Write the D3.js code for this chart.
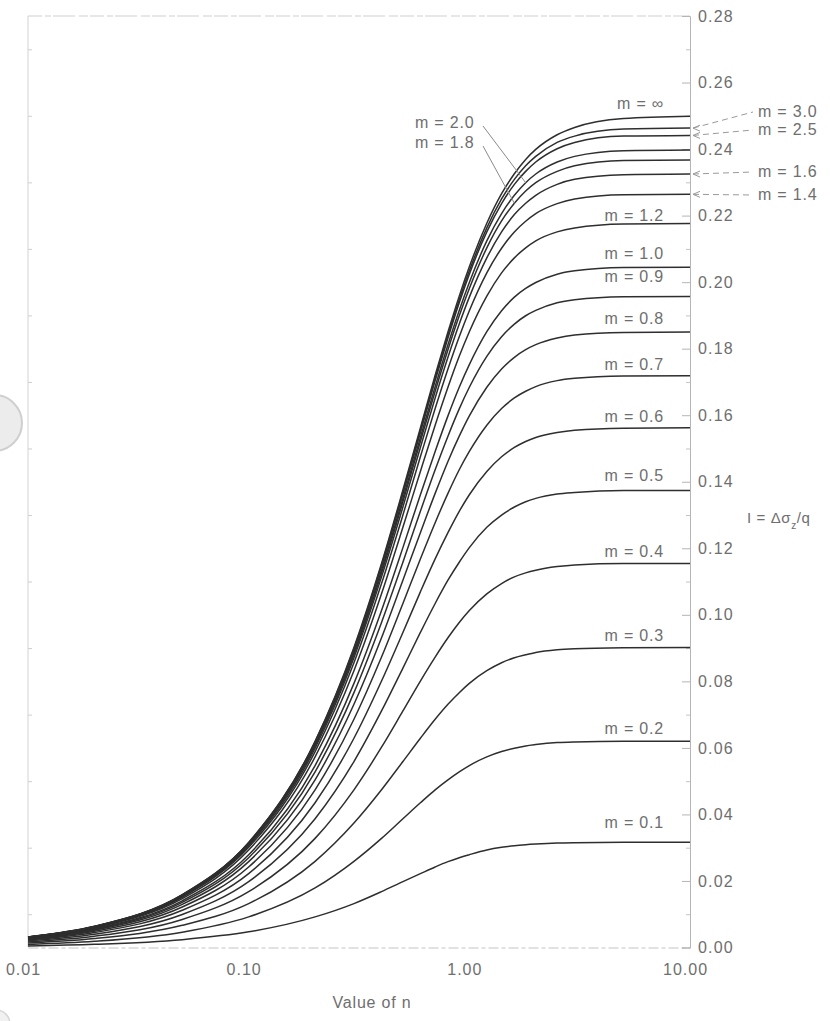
<!DOCTYPE html>
<html>
<head>
<meta charset="utf-8">
<script src="https://cdn.jsdelivr.net/npm/d3@7"></script>
<style>
  body { margin: 0; background: #fff; }
  svg { display: block; }
  text { font-family: "Liberation Sans", Arial, sans-serif; fill: #6e6e6e; }
</style>
</head>
<body>
<div id="chart"></div>
<script>
// values of n (x axis)
const nValues = [0.01, 0.02, 0.05, 0.1, 0.2, 0.3, 0.4, 0.5, 0.6, 0.7, 0.8, 0.9, 1.0, 1.2, 1.4, 1.6, 1.8, 2.0, 2.5, 3.0, 5.0, 10.0];

// influence factor I for each m, one value per n above
const iM01 = [0.00047, 0.00095, 0.00236, 0.0047, 0.0092, 0.0132, 0.0168, 0.0198, 0.0222, 0.0242, 0.0258, 0.0270, 0.0279, 0.0293, 0.0301, 0.0306, 0.0309, 0.0311, 0.0314, 0.0315, 0.0316, 0.0316];
const iM02 = [0.00092, 0.00185, 0.00461, 0.0092, 0.0179, 0.0259, 0.0328, 0.0387, 0.0435, 0.0474, 0.0504, 0.0528, 0.0547, 0.0573, 0.0589, 0.0599, 0.0606, 0.0610, 0.0616, 0.0618, 0.0620, 0.0620];
const iM03 = [0.00133, 0.00267, 0.00666, 0.0132, 0.0259, 0.0374, 0.0474, 0.0559, 0.0629, 0.0686, 0.0731, 0.0766, 0.0794, 0.0832, 0.0856, 0.0871, 0.0880, 0.0887, 0.0895, 0.0898, 0.0901, 0.0902];
const iM04 = [0.00169, 0.00338, 0.00844, 0.0168, 0.0328, 0.0474, 0.0602, 0.0711, 0.0801, 0.0873, 0.0931, 0.0977, 0.1013, 0.1063, 0.1094, 0.1114, 0.1126, 0.1134, 0.1145, 0.1150, 0.1154, 0.1154];
const iM05 = [0.00199, 0.00399, 0.00994, 0.0198, 0.0387, 0.0559, 0.0711, 0.0840, 0.0947, 0.1034, 0.1104, 0.1158, 0.1202, 0.1263, 0.1300, 0.1324, 0.1340, 0.1350, 0.1363, 0.1368, 0.1374, 0.1374];
const iM06 = [0.00224, 0.00448, 0.01118, 0.0222, 0.0435, 0.0629, 0.0801, 0.0947, 0.1069, 0.1168, 0.1247, 0.1311, 0.1361, 0.1431, 0.1475, 0.1503, 0.1521, 0.1533, 0.1548, 0.1555, 0.1561, 0.1562];
const iM07 = [0.00244, 0.00488, 0.01217, 0.0242, 0.0474, 0.0686, 0.0873, 0.1034, 0.1168, 0.1277, 0.1365, 0.1436, 0.1491, 0.1570, 0.1620, 0.1652, 0.1672, 0.1686, 0.1704, 0.1711, 0.1718, 0.1719];
const iM08 = [0.00260, 0.00519, 0.01295, 0.0258, 0.0504, 0.0731, 0.0931, 0.1104, 0.1247, 0.1365, 0.1461, 0.1537, 0.1598, 0.1684, 0.1739, 0.1774, 0.1797, 0.1812, 0.1832, 0.1841, 0.1849, 0.1850];
const iM09 = [0.00272, 0.00544, 0.01356, 0.0270, 0.0528, 0.0766, 0.0977, 0.1158, 0.1311, 0.1436, 0.1537, 0.1619, 0.1684, 0.1777, 0.1836, 0.1874, 0.1899, 0.1915, 0.1938, 0.1947, 0.1956, 0.1957];
const iM10 = [0.00281, 0.00563, 0.01404, 0.0279, 0.0547, 0.0794, 0.1013, 0.1202, 0.1361, 0.1491, 0.1598, 0.1684, 0.1752, 0.1851, 0.1914, 0.1955, 0.1981, 0.1999, 0.2024, 0.2034, 0.2044, 0.2045];
const iM12 = [0.00295, 0.00589, 0.01470, 0.0293, 0.0573, 0.0832, 0.1063, 0.1263, 0.1431, 0.1570, 0.1684, 0.1777, 0.1851, 0.1958, 0.2028, 0.2073, 0.2103, 0.2124, 0.2151, 0.2163, 0.2175, 0.2176];
const iM14 = [0.00303, 0.00606, 0.01511, 0.0301, 0.0589, 0.0856, 0.1094, 0.1300, 0.1475, 0.1620, 0.1739, 0.1836, 0.1914, 0.2028, 0.2102, 0.2151, 0.2183, 0.2206, 0.2236, 0.2250, 0.2263, 0.2264];
const iM16 = [0.00308, 0.00616, 0.01536, 0.0306, 0.0599, 0.0871, 0.1114, 0.1324, 0.1503, 0.1652, 0.1774, 0.1874, 0.1955, 0.2073, 0.2151, 0.2203, 0.2237, 0.2261, 0.2294, 0.2309, 0.2323, 0.2325];
const iM18 = [0.00311, 0.00622, 0.01552, 0.0309, 0.0606, 0.0880, 0.1126, 0.1340, 0.1521, 0.1672, 0.1797, 0.1899, 0.1981, 0.2103, 0.2184, 0.2237, 0.2274, 0.2299, 0.2333, 0.2350, 0.2366, 0.2367];
const iM20 = [0.00313, 0.00626, 0.01563, 0.0311, 0.0610, 0.0887, 0.1134, 0.1350, 0.1533, 0.1686, 0.1812, 0.1915, 0.1999, 0.2124, 0.2206, 0.2261, 0.2299, 0.2325, 0.2361, 0.2378, 0.2395, 0.2397];
const iM25 = [0.00316, 0.00632, 0.01576, 0.0314, 0.0616, 0.0895, 0.1145, 0.1363, 0.1548, 0.1704, 0.1832, 0.1938, 0.2024, 0.2151, 0.2236, 0.2294, 0.2333, 0.2361, 0.2401, 0.2420, 0.2439, 0.2441];
const iM30 = [0.00317, 0.00634, 0.01582, 0.0315, 0.0618, 0.0898, 0.1150, 0.1368, 0.1555, 0.1711, 0.1841, 0.1947, 0.2034, 0.2163, 0.2250, 0.2309, 0.2350, 0.2378, 0.2420, 0.2439, 0.2460, 0.2463];
const iMInf = [0.00318, 0.00637, 0.01588, 0.0316, 0.0620, 0.0902, 0.1154, 0.1375, 0.1562, 0.1720, 0.1850, 0.1958, 0.2046, 0.2177, 0.2266, 0.2326, 0.2369, 0.2399, 0.2443, 0.2465, 0.2492, 0.2499];

const mLabels = ["0.1", "0.2", "0.3", "0.4", "0.5", "0.6", "0.7", "0.8", "0.9", "1.0", "1.2", "1.4", "1.6", "1.8", "2.0", "2.5", "3.0", "∞"];
const mSeries = [iM01, iM02, iM03, iM04, iM05, iM06, iM07, iM08, iM09, iM10, iM12, iM14, iM16, iM18, iM20, iM25, iM30, iMInf];

const yTicks = [0, 0.02, 0.04, 0.06, 0.08, 0.10, 0.12, 0.14, 0.16, 0.18, 0.20, 0.22, 0.24, 0.26, 0.28];
const yMinorTicks = [0.01, 0.03, 0.05, 0.07, 0.09, 0.11, 0.13, 0.15, 0.17, 0.19, 0.21, 0.23, 0.25, 0.27];
const xTicks = [0.01, 0.1, 1, 10];
const xTickLabels = ["0.01", "0.10", "1.00", "10.00"];

const width = 830, height = 1021;
const svg = d3.select("#chart").append("svg")
  .attr("width", width)
  .attr("height", height);

const x = d3.scaleLog().domain([0.01, 10]).range([28, 690]);
const y = d3.scaleLinear().domain([0, 0.28]).range([947.5, 16]);

// scanned hole-punch marks
svg.append("circle").attr("cx", -6).attr("cy", 423).attr("r", 28)
  .attr("fill", "#ececec").attr("stroke", "#cfcfcf").attr("stroke-width", 2);
svg.append("circle").attr("cx", -4).attr("cy", 1024).attr("r", 14)
  .attr("fill", "#f1f1f1").attr("stroke", "#d6d6d6").attr("stroke-width", 1.5);

// frame: top and left
svg.append("line")
  .attr("x1", x(0.01)).attr("x2", x(10)).attr("y1", y(0.28)).attr("y2", y(0.28))
  .attr("stroke", "#cfcfcf").attr("stroke-width", 1.2)
  .attr("stroke-dasharray", "14,3,6,2,22,4,9,2");
svg.append("line")
  .attr("x1", x(0.01)).attr("x2", x(0.01)).attr("y1", y(0.28)).attr("y2", y(0))
  .attr("stroke", "#d2d2d2").attr("stroke-width", 1);
svg.append("g")
  .attr("transform", `translate(${x(0.01)},0)`)
  .call(d3.axisLeft(y).tickValues(yMinorTicks).tickSize(-4).tickFormat(""))
  .call(g => g.select(".domain").remove())
  .call(g => g.selectAll(".tick line").attr("stroke", "#cfcfcf"));

// bottom axis
const xAxis = svg.append("g")
  .attr("transform", `translate(0,${y(0)})`)
  .call(d3.axisBottom(x).tickValues(xTicks).tickSize(0).tickPadding(16)
    .tickFormat((d, i) => xTickLabels[i]));
xAxis.select(".domain").attr("stroke", "#c4c4c4").attr("stroke-dasharray", "10,3,4,3");
xAxis.selectAll("text")
  .style("font-family", "Liberation Sans, Arial, sans-serif")
  .style("font-size", "16px").style("letter-spacing", "1px")
  .attr("fill", "#6e6e6e").attr("dx", -5);

// right axis
const yAxis = svg.append("g")
  .attr("transform", `translate(${x(10)},0)`)
  .call(d3.axisRight(y).tickValues(yTicks).tickSize(-8).tickPadding(8)
    .tickFormat(d3.format(".2f")));
yAxis.select(".domain").attr("stroke", "#b5b5b5");
yAxis.selectAll(".tick line").attr("stroke", "#b5b5b5");
yAxis.selectAll("text")
  .style("font-family", "Liberation Sans, Arial, sans-serif")
  .style("font-size", "16px").style("letter-spacing", "1.2px")
  .attr("fill", "#6e6e6e");
svg.append("g")
  .attr("transform", `translate(${x(10)},0)`)
  .call(d3.axisRight(y).tickValues(yMinorTicks).tickSize(-4).tickFormat(""))
  .call(g => g.select(".domain").remove())
  .call(g => g.selectAll(".tick line").attr("stroke", "#c4c4c4"));

// axis titles
const yTitle = svg.append("text")
  .attr("x", 747).attr("y", 523)
  .style("font-size", "15px").style("letter-spacing", "0.6px");
yTitle.append("tspan").text("I = Δσ");
yTitle.append("tspan").attr("baseline-shift", "sub").style("font-size", "10px").text("z");
yTitle.append("tspan").text("/q");

svg.append("text")
  .attr("x", 372).attr("y", 1008)
  .attr("text-anchor", "middle")
  .style("font-size", "16px").style("letter-spacing", "0.8px")
  .text("Value of n");

// curves
const line = d3.line()
  .x(d => x(d[0]))
  .y(d => y(d[1]))
  .curve(d3.curveMonotoneX);

svg.append("g")
  .selectAll("path")
  .data(mSeries)
  .join("path")
  .attr("d", s => line(s.map((v, i) => [nValues[i], v])))
  .attr("fill", "none")
  .attr("stroke", "#2e2e2e")
  .attr("stroke-width", 1.5);

// curve labels right above the plateau
const insideLabels = ["0.1", "0.2", "0.3", "0.4", "0.5", "0.6", "0.7", "0.8", "0.9", "1.0", "1.2", "∞"];
const insideDy = [14, 7, 6, 7, 9, 6, 6, 8, 14, 8, 3, 7];
const last = nValues.length - 1;

svg.append("g")
  .selectAll("text")
  .data(insideLabels)
  .join("text")
  .attr("x", 664)
  .attr("y", (m, i) => y(mSeries[mLabels.indexOf(m)][last]) - insideDy[i])
  .attr("text-anchor", "end")
  .style("font-size", "16px").style("letter-spacing", "0.8px")
  .text(m => "m = " + m);

// labels on the right side, with dashed leaders
const outsideLabels = ["3.0", "2.5", "1.6", "1.4"];
const outsideTextY = [117, 135, 177, 200];
const outside = svg.append("g");
outsideLabels.forEach((m, i) => {
  const yv = y(mSeries[mLabels.indexOf(m)][last]);
  outside.append("line")
    .attr("x1", x(10) + 3).attr("y1", yv)
    .attr("x2", 753).attr("y2", outsideTextY[i] - 5)
    .attr("stroke", "#9a9a9a").attr("stroke-width", 1)
    .attr("stroke-dasharray", "6,4");
  outside.append("path")
    .attr("d", `M${x(10) + 10},${yv - 3}L${x(10) + 3},${yv}L${x(10) + 10},${yv + 3}`)
    .attr("fill", "none").attr("stroke", "#9a9a9a");
  outside.append("text")
    .attr("x", 758).attr("y", outsideTextY[i])
    .style("font-size", "16px").style("letter-spacing", "0.8px")
    .text("m = " + m);
});

// labels on the left of the knee, with leaders to their curves
const leftLabels = ["2.0", "1.8"];
const leftTextY = [128, 148];
const leftAnchorN = [1.9, 1.6];
leftLabels.forEach((m, i) => {
  const s = mSeries[mLabels.indexOf(m)];
  const k = nValues.indexOf(leftAnchorN[i]) >= 0 ? nValues.indexOf(leftAnchorN[i]) : 16;
  const tx = x(nValues[k]), ty = y(s[k]);
  svg.append("line")
    .attr("x1", 483).attr("y1", leftTextY[i] - 2)
    .attr("x2", tx).attr("y2", ty)
    .attr("stroke", "#8a8a8a").attr("stroke-width", 1);
  svg.append("text")
    .attr("x", 415).attr("y", leftTextY[i])
    .style("font-size", "16px").style("letter-spacing", "0.8px")
    .text("m = " + m);
});
</script>
</body>
</html>
